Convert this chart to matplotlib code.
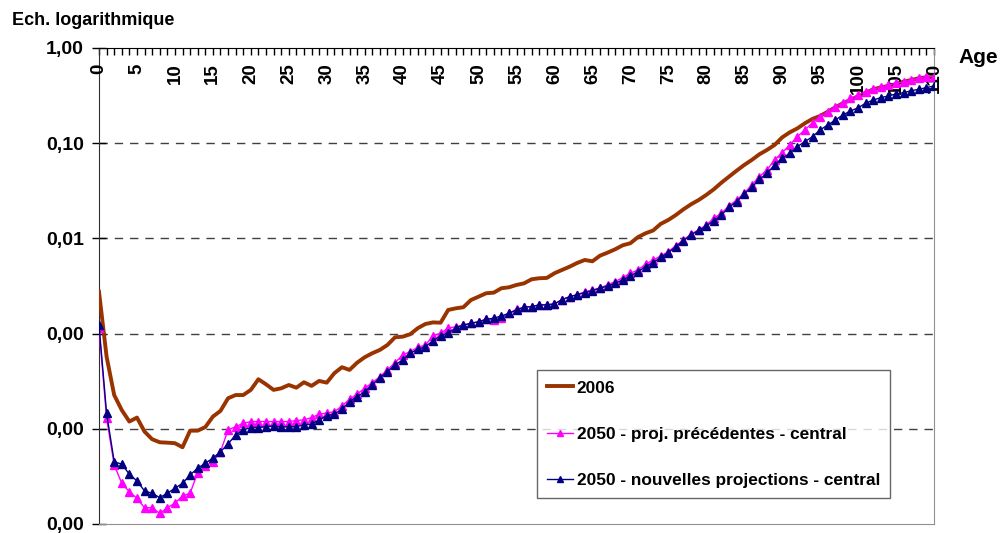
import numpy as np
import matplotlib
matplotlib.use("Agg")
import matplotlib.pyplot as plt
from matplotlib.ticker import FixedLocator, FuncFormatter, NullLocator, MultipleLocator

# ---- data: mortality quotients by age --------------------------------------
ages = np.arange(0, 111)

q_2006 = [
    2.75e-3, 5.72e-4, 2.26e-4, 1.57e-4, 1.19e-4, 1.31e-4, 9.33e-5, 7.76e-5, 7.21e-5, 7.14e-5,
    7.05e-5, 6.39e-5, 9.55e-5, 9.55e-5, 1.04e-4, 1.34e-4, 1.54e-4, 2.09e-4, 2.26e-4, 2.26e-4,
    2.56e-4, 3.31e-4, 2.93e-4, 2.56e-4, 2.66e-4, 2.88e-4, 2.70e-4, 3.08e-4, 2.82e-4, 3.18e-4,
    3.05e-4, 3.83e-4, 4.43e-4, 4.15e-4, 4.94e-4, 5.64e-4, 6.21e-4, 6.73e-4, 7.59e-4, 9.14e-4,
    9.27e-4, 9.84e-4, 1.14e-3, 1.26e-3, 1.31e-3, 1.30e-3, 1.77e-3, 1.84e-3, 1.89e-3, 2.25e-3,
    2.44e-3, 2.65e-3, 2.69e-3, 2.99e-3, 3.06e-3, 3.24e-3, 3.37e-3, 3.72e-3, 3.81e-3, 3.84e-3,
    4.30e-3, 4.66e-3, 5.04e-3, 5.52e-3, 5.93e-3, 5.74e-3, 6.58e-3, 7.08e-3, 7.68e-3, 8.46e-3,
    8.89e-3, 1.03e-2, 1.13e-2, 1.21e-2, 1.42e-2, 1.56e-2, 1.76e-2, 2.02e-2, 2.28e-2, 2.53e-2,
    2.86e-2, 3.28e-2, 3.85e-2, 4.45e-2, 5.14e-2, 5.90e-2, 6.67e-2, 7.64e-2, 8.49e-2, 9.57e-2,
    0.115, 0.130, 0.143, 0.162, 0.180, 0.193, 0.214, 0.238, 0.263, 0.284,
    0.308, 0.339, 0.368, 0.386, 0.399, 0.419, 0.443, 0.461, 0.481, 0.492, 0.492,
]

q_2050_prec = [
    1.14e-3, 1.29e-4, 4.17e-5, 2.67e-5, 2.18e-5, 1.86e-5, 1.48e-5, 1.48e-5, 1.29e-5, 1.48e-5,
    1.65e-5, 1.97e-5, 2.10e-5, 3.46e-5, 4.07e-5, 4.51e-5, 5.74e-5, 9.71e-5, 1.05e-4, 1.14e-4,
    1.19e-4, 1.19e-4, 1.19e-4, 1.19e-4, 1.19e-4, 1.19e-4, 1.22e-4, 1.24e-4, 1.31e-4, 1.42e-4,
    1.46e-4, 1.51e-4, 1.73e-4, 2.04e-4, 2.32e-4, 2.66e-4, 3.05e-4, 3.52e-4, 4.15e-4, 4.94e-4,
    5.96e-4, 6.46e-4, 7.18e-4, 7.59e-4, 9.44e-4, 1.01e-3, 1.14e-3, 1.18e-3, 1.23e-3, 1.28e-3,
    1.33e-3, 1.41e-3, 1.39e-3, 1.45e-3, 1.63e-3, 1.80e-3, 1.89e-3, 1.92e-3, 2.00e-3, 2.00e-3,
    2.05e-3, 2.27e-3, 2.44e-3, 2.56e-3, 2.75e-3, 2.87e-3, 3.03e-3, 3.24e-3, 3.51e-3, 3.87e-3,
    4.30e-3, 4.66e-3, 5.35e-3, 5.93e-3, 6.53e-3, 7.25e-3, 8.38e-3, 9.62e-3, 1.11e-2, 1.23e-2,
    1.38e-2, 1.63e-2, 1.84e-2, 2.19e-2, 2.53e-2, 2.98e-2, 3.64e-2, 4.45e-2, 5.23e-2, 6.67e-2,
    7.94e-2, 9.57e-2, 0.117, 0.138, 0.164, 0.190, 0.214, 0.242, 0.266, 0.298,
    0.321, 0.348, 0.368, 0.386, 0.409, 0.426, 0.443, 0.461, 0.481, 0.500, 0.500,
]

q_2050_new = [
    1.23e-3, 1.46e-4, 4.51e-5, 4.24e-5, 3.33e-5, 2.83e-5, 2.22e-5, 2.10e-5, 1.89e-5, 2.10e-5,
    2.37e-5, 2.67e-5, 3.27e-5, 3.85e-5, 4.34e-5, 4.90e-5, 5.74e-5, 6.92e-5, 8.61e-5, 9.71e-5,
    1.03e-4, 1.03e-4, 1.05e-4, 1.07e-4, 1.04e-4, 1.05e-4, 1.05e-4, 1.10e-4, 1.12e-4, 1.24e-4,
    1.37e-4, 1.43e-4, 1.60e-4, 1.93e-4, 2.17e-4, 2.45e-4, 2.88e-4, 3.44e-4, 3.98e-4, 4.68e-4,
    5.28e-4, 6.21e-4, 6.84e-4, 7.28e-4, 8.42e-4, 9.44e-4, 1.02e-3, 1.14e-3, 1.23e-3, 1.28e-3,
    1.33e-3, 1.41e-3, 1.45e-3, 1.53e-3, 1.63e-3, 1.77e-3, 1.89e-3, 1.92e-3, 2.00e-3, 2.00e-3,
    2.05e-3, 2.27e-3, 2.44e-3, 2.56e-3, 2.69e-3, 2.82e-3, 2.99e-3, 3.16e-3, 3.37e-3, 3.66e-3,
    4.03e-3, 4.47e-3, 5.04e-3, 5.56e-3, 6.33e-3, 7.08e-3, 8.18e-3, 9.46e-3, 1.09e-2, 1.21e-2,
    1.35e-2, 1.53e-2, 1.76e-2, 2.12e-2, 2.43e-2, 2.93e-2, 3.44e-2, 4.18e-2, 4.83e-2, 5.90e-2,
    6.94e-2, 7.83e-2, 9.19e-2, 0.104, 0.117, 0.138, 0.155, 0.175, 0.198, 0.218,
    0.235, 0.263, 0.284, 0.301, 0.313, 0.329, 0.339, 0.356, 0.368, 0.383, 0.399,
]

labels = ["2006", "2050 - proj. précédentes - central",
          "2050 - nouvelles projections - central"]
age_ticks = list(range(0, 111, 5))
y_ticks = [1e-5, 1e-4, 1e-3, 1e-2, 1e-1, 1.0]

# ---- style -----------------------------------------------------------------
BROWN, MAGENTA, NAVY = "#993300", "#ff00ff", "#000080"
plt.rcParams.update({"font.family": ["Liberation Sans", "DejaVu Sans"],
                     "font.weight": "bold"})

fig = plt.figure(figsize=(10, 5.33), dpi=100)
ax = fig.add_axes([0.099, 0.017, 0.835, 0.893])

ax.plot(ages, q_2006, color=BROWN, lw=2.8, label=labels[0], zorder=3)
ax.plot(ages, q_2050_prec, color=MAGENTA, lw=1.0, marker="^", ms=5.5,
        mec=MAGENTA, label=labels[1], zorder=4)
ax.plot(ages, q_2050_new, color=NAVY, lw=1.0, marker="^", ms=5.5,
        mec=NAVY, label=labels[2], zorder=5)

ax.set_yscale("log")
ax.set_ylim(1e-5, 1.0)
ax.set_xlim(0, 110)
ax.yaxis.set_major_locator(FixedLocator(y_ticks))
ax.yaxis.set_minor_locator(NullLocator())
ax.yaxis.set_major_formatter(FuncFormatter(lambda v, p: f"{v:.2f}".replace(".", ",")))
ax.tick_params(axis="y", direction="inout", length=10, width=1, labelsize=14, pad=6)
for g in y_ticks[1:-1]:
    ax.axhline(g, color="#404040", lw=1.0, ls=(0, (6, 5)), zorder=1)

# x axis sits at the top, labels hang inside the plot
ax.xaxis.set_major_locator(FixedLocator(age_ticks))
ax.xaxis.set_minor_locator(MultipleLocator(1))
ax.tick_params(axis="x", which="both", top=True, bottom=False, labeltop=False,
               labelbottom=False, direction="in", length=5, width=1)
for a in age_ticks:
    ax.text(a, 0.968, str(a), transform=ax.get_xaxis_transform(), rotation=90,
            ha="center", va="top", fontsize=13.5, fontweight="bold")

ax.spines["top"].set_color("black")
ax.spines["left"].set_color("#303030")
ax.spines["right"].set_color("#909090")
ax.spines["bottom"].set_color("#909090")

fig.text(0.012, 0.962, "Ech. logarithmique", fontsize=13, fontweight="bold",
         ha="left", va="center")
fig.text(0.958, 0.893, "Age", fontsize=15, fontweight="bold", ha="left", va="center")

leg = ax.legend(loc="lower left", bbox_to_anchor=(0.5246, 0.0546), fontsize=12.4,
                frameon=True, fancybox=False, edgecolor="#404040",
                labelspacing=1.8, handlelength=1.5, borderpad=0.6,
                borderaxespad=0, handletextpad=0.2, markerscale=0.7)
leg.get_frame().set_linewidth(1.0)
leg.set_zorder(10)

fig.savefig("out.png", dpi=100, facecolor="white")
